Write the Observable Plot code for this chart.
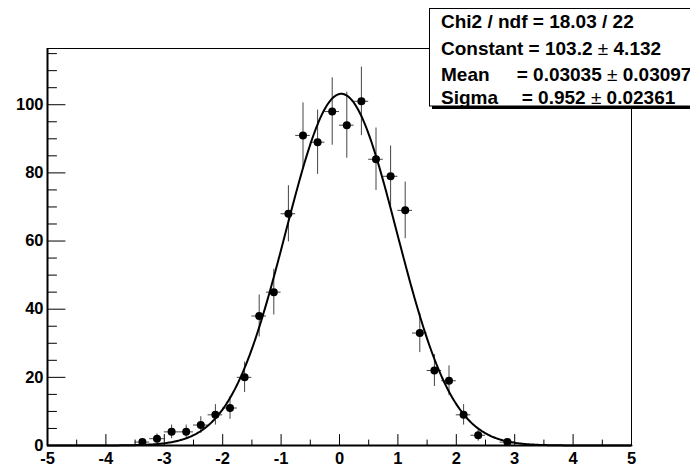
<!DOCTYPE html>
<html><head><meta charset="utf-8">
<script src="https://cdn.jsdelivr.net/npm/d3@7"></script>
<script src="https://cdn.jsdelivr.net/npm/@observablehq/plot@0.6"></script>
<style>
body{margin:0;background:#fff;overflow:hidden}
#wrap{position:relative;width:690px;height:467px;overflow:hidden}
#wrap svg{position:absolute;left:0;top:0}
</style></head><body><div id="wrap"></div>
<script>
// Histogram bins (non-empty), counts and their errors
const binCenters = [-3.375,-3.125,-2.875,-2.625,-2.375,-2.125,-1.875,-1.625,-1.375,-1.125,-0.875,-0.625,-0.375,-0.125,0.125,0.375,0.625,0.875,1.125,1.375,1.625,1.875,2.125,2.375,2.875];
const counts =     [1,2,4,4,6,9,11,20,38,45,68,91,89,98,94,101,84,79,69,33,22,19,9,3,1];
const countErrors = [1,1.41,2,2,2.45,3,3.32,4.47,6.16,6.71,8.25,9.54,9.43,9.9,9.7,10.05,9.17,8.89,8.31,5.74,4.69,4.36,3,1.73,1];
const binHalfWidth = 0.125;

// Axis ticks
const xTicksMajor = [-5,-4,-3,-2,-1,0,1,2,3,4,5];
const xTicksMinor = [-4.5,-3.5,-2.5,-1.5,-0.5,0.5,1.5,2.5,3.5,4.5];
const yTicksMajor = [0,20,40,60,80,100];
const yTicksMinor = [5,10,15,25,30,35,45,50,55,65,70,75,85,90,95,105,110,115];
const xDomain = [-5,5];
const yDomain = [0,116.5];

// Gaussian fit parameters (from the stats box)
const fitConstant = 103.2, fitMean = 0.03035, fitSigma = 0.952;

// Stats box
const statNames  = ["Chi2 / ndf", "Constant", "Mean", "Sigma"];
const statValues = ["18.03 / 22", "103.2", "0.03035", "0.952"];
const statErrors = [null, "4.132", "0.03097", "0.02361"];

const points = binCenters.map((x,i)=>({x, y: counts[i], e: countErrors[i]}));
const fitXs = d3.range(-5, 5.0001, 0.02);
const curve = fitXs.map(x=>({x, y: fitConstant*Math.exp(-0.5*((x-fitMean)/fitSigma)**2)}));

// inward tick shapes
const tickUp = {draw(c, l) { c.moveTo(0, 0); c.lineTo(0, -l); }};
const tickRight = {draw(c, l) { c.moveTo(0, 0); c.lineTo(l, 0); }};

const font = "'Liberation Sans', Arial, Helvetica, sans-serif";
const chart = Plot.plot({
  width: 690, height: 467,
  marginLeft: 47, marginRight: 59, marginTop: 48, marginBottom: 22,
  x: {domain: xDomain},
  y: {domain: yDomain},
  style: {fontFamily: font, background: "white", color: "black"},
  marks: [
    Plot.frame({stroke: "black", strokeWidth: 1}),
    Plot.ruleX(points, {x: "x", y1: d=>d.y-d.e, y2: d=>d.y+d.e, stroke: "#444", strokeWidth: 1}),
    Plot.ruleY(points, {y: "y", x1: d=>d.x-binHalfWidth, x2: d=>d.x+binHalfWidth, stroke: "#444", strokeWidth: 1}),
    Plot.line(curve, {x: "x", y: "y", stroke: "black", strokeWidth: 2}),
    Plot.dot(points, {x: "x", y: "y", r: 4, fill: "black", stroke: "none"}),
    Plot.vector(xTicksMajor, {x: d=>d, y: yDomain[0], length: 11, anchor: "start", shape: tickUp, stroke: "black", strokeWidth: 1}),
    Plot.vector(xTicksMinor, {x: d=>d, y: yDomain[0], length: 5.5, anchor: "start", shape: tickUp, stroke: "black", strokeWidth: 1}),
    Plot.vector(yTicksMajor, {x: xDomain[0], y: d=>d, length: 17.5, anchor: "start", shape: tickRight, stroke: "black", strokeWidth: 1}),
    Plot.vector(yTicksMinor, {x: xDomain[0], y: d=>d, length: 9, anchor: "start", shape: tickRight, stroke: "black", strokeWidth: 1}),
    Plot.ruleX([xDomain[0]], {stroke: "black", strokeWidth: 2}),
    Plot.ruleY([yDomain[0]], {stroke: "black", strokeWidth: 2}),
    Plot.axisX(xTicksMajor, {anchor: "bottom", tickSize: 0, tickPadding: 7, label: null, tickFormat: d=>String(d), fontSize: 16.5, fontWeight: "bold", fill: "black"}),
    Plot.axisY(yTicksMajor, {anchor: "left", tickSize: 0, tickPadding: 4, label: null, tickFormat: d=>String(d), fontSize: 16.5, fontWeight: "bold", fill: "black"})
  ]
});
const wrap = document.getElementById("wrap");
wrap.appendChild(chart);

// Stats box overlay
const ov = d3.select(wrap).append("svg").attr("width", 690).attr("height", 467)
  .style("pointer-events", "none").style("font-family", font);
ov.append("rect").attr("x", 432).attr("y", 11).attr("width", 300).attr("height", 98).attr("fill", "black");
ov.append("rect").attr("x", 429.5).attr("y", 8.5).attr("width", 300).attr("height", 97.5)
  .attr("fill", "white").attr("stroke", "black").attr("stroke-width", 1);
const baselines = [28.3, 55, 80.5, 104];
const valueX = [null, null, 516.7, 521.7];
statNames.forEach((name, i) => {
  const t = ov.append("text").attr("x", 441).attr("y", baselines[i])
    .attr("font-size", 19).attr("font-weight", "bold");
  if (valueX[i] === null) {
    t.append("tspan").text(`${name} = ${statValues[i]}`);
    if (statErrors[i]) {
      t.append("tspan").attr("font-weight", "normal").text(" \u00b1 ");
      t.append("tspan").text(statErrors[i]);
    }
  } else {
    t.text(name);
    const t2 = ov.append("text").attr("x", valueX[i]).attr("y", baselines[i])
      .attr("font-size", 19).attr("font-weight", "bold");
    t2.append("tspan").text(`= ${statValues[i]}`);
    if (statErrors[i]) {
      t2.append("tspan").attr("font-weight", "normal").text(" \u00b1 ");
      t2.append("tspan").text(statErrors[i]);
    }
  }
});
</script></body></html>
